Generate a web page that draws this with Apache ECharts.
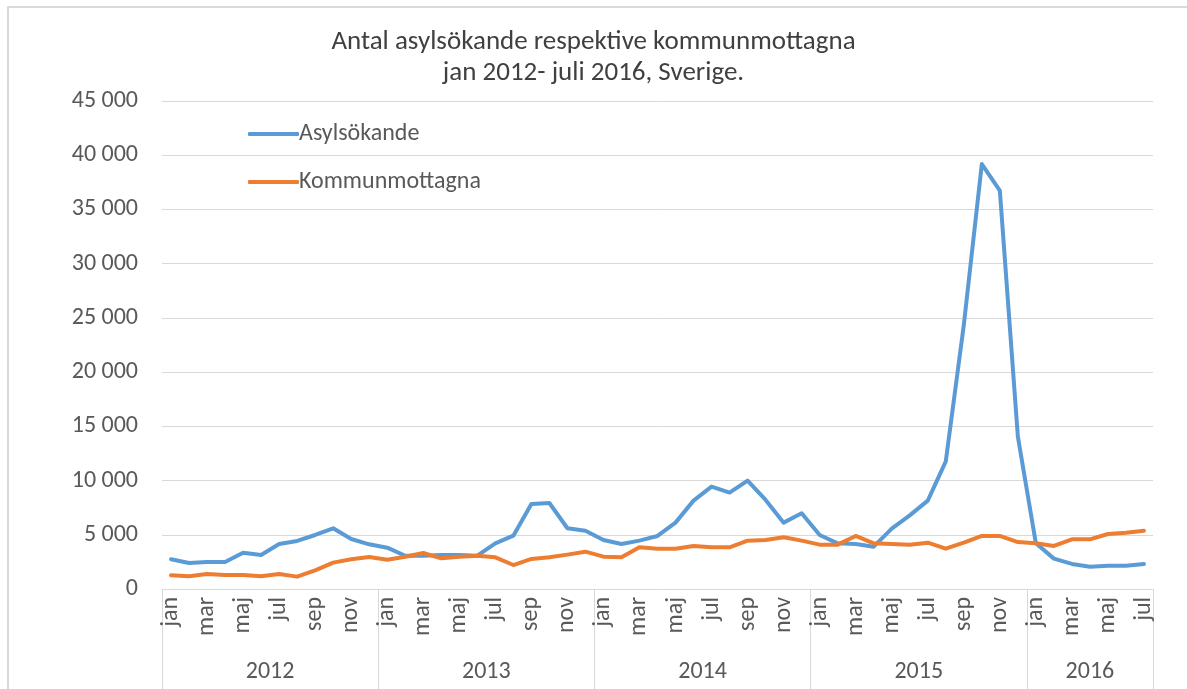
<!DOCTYPE html>
<html>
<head>
<meta charset="utf-8">
<script src="https://cdn.jsdelivr.net/npm/echarts@6/dist/echarts.min.js"></script>
<style>
  html, body { margin: 0; padding: 0; background: #fff; }
  #wrap { position: relative; width: 1187px; height: 689px; overflow: hidden; }
  #frame {
    position: absolute; left: 7px; top: 6px; width: 1200px; height: 700px;
    border-left: 2px solid #d9d9d9; border-top: 2px solid #d9d9d9;
  }
  #chart { position: absolute; left: 0; top: 0; width: 1187px; height: 689px; }
</style>
</head>
<body>
<div id="wrap">
  <div id="frame"></div>
  <div id="chart"></div>
</div>
<script>
// manader och ar
var monthNames = ['jan', 'feb', 'mar', 'apr', 'maj', 'jun', 'jul', 'aug', 'sep', 'okt', 'nov', 'dec'];
var years = ['2012', '2013', '2014', '2015', '2016'];
var monthsPerYear = [12, 12, 12, 12, 7];

var asylsokande = [
  2750, 2400, 2490, 2490, 3350, 3130, 4150, 4430, 4980, 5600, 4610, 4120,
  3810, 3070, 3070, 3130, 3130, 3070, 4210, 4920, 7840, 7930, 5600, 5380,
  4520, 4150, 4460, 4890, 6120, 8150, 9440, 8890, 10000, 8210, 6120, 6980,
  4980, 4210, 4150, 3900, 5560, 6790, 8150, 11770, 24350, 39190, 36730, 14050,
  4210, 2800, 2310, 2060, 2150, 2150, 2310
];
var kommunmottagna = [
  1260, 1170, 1380, 1290, 1290, 1170, 1380, 1140, 1720, 2430, 2740, 2950,
  2700, 2980, 3320, 2830, 2980, 3070, 2920, 2210, 2770, 2920, 3170, 3440,
  2980, 2920, 3840, 3720, 3720, 3970, 3840, 3840, 4460, 4520, 4770, 4460,
  4090, 4090, 4890, 4210, 4150, 4090, 4270, 3720, 4270, 4890, 4890, 4330,
  4210, 3970, 4580, 4580, 5070, 5190, 5380
];

var fontFam = "Carlito, 'Liberation Sans Narrow', 'Open Sans', sans-serif";
var grey = '#595959';

// manadsaxel
var months = [];
for (var y = 0; y < years.length; y++) {
  for (var m = 0; m < monthsPerYear[y]; m++) months.push(monthNames[m]);
}

// arsaxel: halvmanadssteg, boundaryGap false -> ticks pa argranser, etikett i mitten
var yearCats = [];
var yearTickIdx = {};
var yearLabelIdx = {};
var total = months.length * 2;
for (var k = 0; k <= total; k++) yearCats.push('');
var start = 0;
for (var y = 0; y < years.length; y++) {
  yearTickIdx[start * 2] = true;
  var mid = start * 2 + monthsPerYear[y];
  yearCats[mid] = years[y];
  yearLabelIdx[mid] = true;
  start += monthsPerYear[y];
}
yearTickIdx[total] = true;

function fmt(v) {
  return String(v).replace(/\B(?=(\d{3})+(?!\d))/g, ' ');
}

var chart = echarts.init(document.getElementById('chart'));
chart.setOption({
  animation: false,
  textStyle: { fontFamily: fontFam },
  title: {
    text: 'Antal asylsökande respektive kommunmottagna\njan 2012- juli 2016, Sverige.',
    left: 'center',
    top: 22,
    padding: [5, 0, 5, 22],
    textStyle: { fontFamily: fontFam, fontSize: 27, fontWeight: 'normal', color: '#404040', lineHeight: 31 }
  },
  legend: {
    orient: 'vertical',
    left: 243,
    top: 117,
    itemGap: 24,
    itemWidth: 51,
    itemHeight: 4,
    icon: 'roundRect',
    textStyle: { fontFamily: fontFam, fontSize: 24, color: grey, padding: [0, 0, 0, -5] },
    data: ['Asylsökande', 'Kommunmottagna']
  },
  grid: { left: 162, right: 34, top: 101, bottom: 100 },
  xAxis: [
    {
      type: 'category',
      data: months,
      boundaryGap: true,
      axisLine: { lineStyle: { color: '#d9d9d9', width: 1 } },
      axisTick: { show: false },
      axisLabel: { interval: 1, rotate: 90, margin: 8, fontSize: 24, color: grey, fontFamily: fontFam }
    },
    {
      type: 'category',
      position: 'bottom',
      data: yearCats,
      boundaryGap: false,
      axisLine: { show: false },
      axisTick: {
        show: true, length: 100,
        interval: function (i) { return !!yearTickIdx[i]; },
        lineStyle: { color: '#d9d9d9', width: 1 }
      },
      axisLabel: {
        interval: function (i) { return !!yearLabelIdx[i]; },
        margin: 71, fontSize: 24, color: grey, fontFamily: fontFam
      },
      splitLine: { show: false }
    }
  ],
  yAxis: {
    type: 'value',
    min: 0, max: 45000, interval: 5000,
    axisLine: { show: false },
    axisTick: { show: false },
    axisLabel: { margin: 24, fontSize: 24, color: grey, fontFamily: fontFam, formatter: fmt },
    splitLine: { lineStyle: { color: '#d9d9d9', width: 1 } }
  },
  series: [
    {
      name: 'Asylsökande',
      type: 'line',
      data: asylsokande,
      symbol: 'none',
      color: '#5b9bd5',
      lineStyle: { width: 4, color: '#5b9bd5', cap: 'round', join: 'round' }
    },
    {
      name: 'Kommunmottagna',
      type: 'line',
      data: kommunmottagna,
      symbol: 'none',
      color: '#ed7d31',
      lineStyle: { width: 4, color: '#ed7d31', cap: 'round', join: 'round' }
    }
  ]
});
</script>
</body>
</html>
